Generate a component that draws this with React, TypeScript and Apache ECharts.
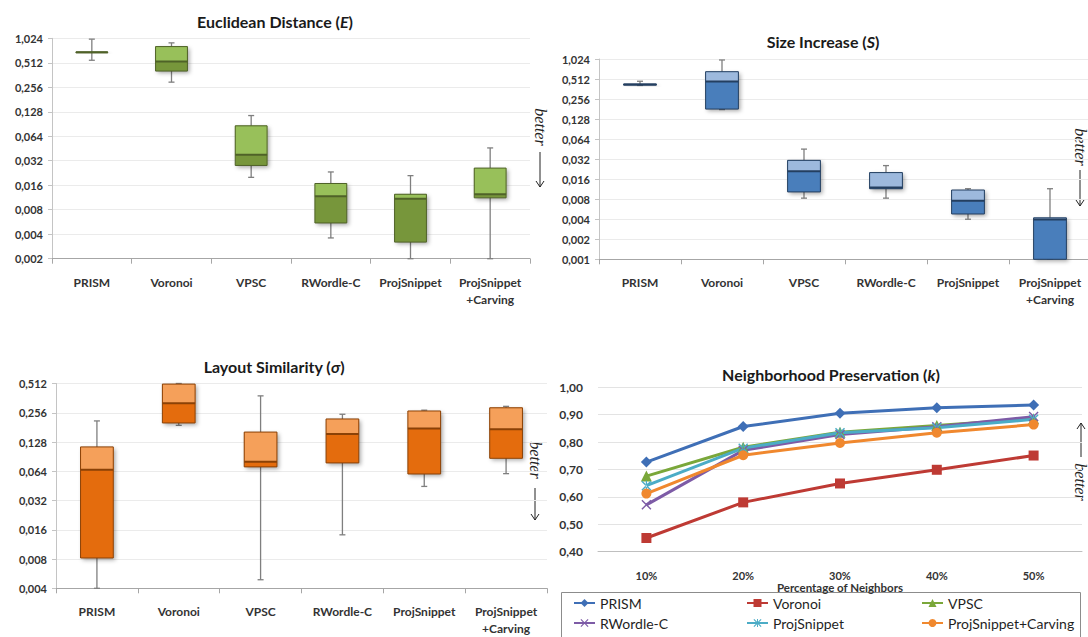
import React, { useEffect, useRef } from "react";
import * as echarts from "echarts";

const FONT = "Lato, 'Open Sans', sans-serif";
const SERIF = "'Liberation Serif', 'DejaVu Serif', serif";
const TEXT = "#333333";

// ---------- data ----------
const methodLabels = ["PRISM", "Voronoi", "VPSC", "RWordle-C", "ProjSnippet", "ProjSnippet\n+Carving"];

// box statistics: [min, q1, median, q3, max]
const euclideanStats = [
  [0.55, 0.68, 0.69, 0.695, 1.0],
  [0.296, 0.405, 0.53, 0.81, 0.9],
  [0.02, 0.028, 0.038, 0.086, 0.115],
  [0.0036, 0.0055, 0.0117, 0.0168, 0.0233],
  [0.002, 0.0032, 0.0109, 0.0124, 0.021],
  [0.002, 0.0112, 0.0124, 0.026, 0.046],
];
const sizeStats = [
  [0.41, 0.415, 0.424, 0.43, 0.474],
  [0.178, 0.181, 0.47, 0.66, 0.99],
  [0.0083, 0.0103, 0.0211, 0.0307, 0.0453],
  [0.0083, 0.0115, 0.012, 0.0201, 0.0256],
  [0.004, 0.0048, 0.0076, 0.011, 0.0115],
  [0.001, 0.001, 0.00395, 0.0042, 0.0115],
];
const similarityStats = [
  [0.004, 0.0082, 0.0663, 0.114, 0.211],
  [0.19, 0.201, 0.32, 0.505, 0.512],
  [0.0049, 0.071, 0.08, 0.162, 0.382],
  [0.0142, 0.078, 0.155, 0.221, 0.247],
  [0.0447, 0.06, 0.176, 0.267, 0.272],
  [0.0605, 0.087, 0.173, 0.288, 0.298],
];

const euclideanTicks = [0.002, 0.004, 0.008, 0.016, 0.032, 0.064, 0.128, 0.256, 0.512, 1.024];
const sizeTicks = [0.001, 0.002, 0.004, 0.008, 0.016, 0.032, 0.064, 0.128, 0.256, 0.512, 1.024];
const similarityTicks = [0.004, 0.008, 0.016, 0.032, 0.064, 0.128, 0.256, 0.512];

const percentages = ["10%", "20%", "30%", "40%", "50%"];
const npTicks = [0.4, 0.5, 0.6, 0.7, 0.8, 0.9, 1.0];
const prismNP = [0.727, 0.857, 0.905, 0.925, 0.935];
const voronoiNP = [0.45, 0.58, 0.649, 0.699, 0.751];
const vpscNP = [0.676, 0.781, 0.836, 0.861, 0.885];
const rwordleNP = [0.571, 0.77, 0.828, 0.856, 0.893];
const projNP = [0.641, 0.778, 0.834, 0.852, 0.883];
const carvingNP = [0.612, 0.752, 0.797, 0.834, 0.864];

// ---------- helpers ----------
const UNIT = 0.001;
const level = (v: number) => Math.log2(v / UNIT);
const fmtLog = (L: number) => (UNIT * Math.pow(2, Math.round(L))).toFixed(3).replace(".", ",");

const PAL_GREEN = { light: "#98C05A", dark: "#77963A", border: "#4F6228" };
const PAL_BLUE = { light: "#9DB9DD", dark: "#4A7EBB", border: "#243F60" };
const PAL_ORANGE = { light: "#F5A05A", dark: "#E46C0A", border: "#8A4106" };

const boxRender = (pal: any) => (params: any, api: any) => {
  const i = api.value(0);
  const get = (d: number) => api.coord([i, api.value(d)]);
  const pMin = get(1), pQ1 = get(2), pMed = get(3), pQ3 = get(4), pMax = get(5);
  const band = api.size([1, 0])[0];
  const w = band * 0.4;
  const cx = pMed[0];
  const x0 = cx - w / 2;
  const cap = 3;
  const wStyle = { stroke: "#7f7f7f", lineWidth: 1.3 };
  return {
    type: "group",
    children: [
      { type: "line", shape: { x1: cx, y1: pMax[1], x2: cx, y2: pMin[1] }, style: wStyle },
      { type: "line", shape: { x1: cx - cap, y1: pMax[1], x2: cx + cap, y2: pMax[1] }, style: wStyle },
      { type: "line", shape: { x1: cx - cap, y1: pMin[1], x2: cx + cap, y2: pMin[1] }, style: wStyle },
      {
        type: "rect",
        shape: { x: x0, y: pQ3[1], width: w, height: pQ1[1] - pQ3[1] },
        style: { fill: pal.dark, shadowBlur: 4, shadowOffsetX: 2, shadowOffsetY: 2, shadowColor: "rgba(0,0,0,0.35)" },
      },
      { type: "rect", shape: { x: x0, y: pQ3[1], width: w, height: pMed[1] - pQ3[1] }, style: { fill: pal.light } },
      {
        type: "rect",
        shape: { x: x0, y: pQ3[1], width: w, height: pQ1[1] - pQ3[1] },
        style: { fill: "none", stroke: pal.border, lineWidth: 1 },
      },
      { type: "line", shape: { x1: x0, y1: pMed[1], x2: x0 + w, y2: pMed[1] }, style: { stroke: pal.border, lineWidth: 2 } },
    ],
  };
};

const boxData = (stats: number[][]) => stats.map((s, i) => [i, ...s.map(level)]);

const catAxis = (gridIndex: number) => ({
  type: "category",
  gridIndex,
  data: methodLabels,
  boundaryGap: true,
  axisLine: { lineStyle: { color: "#a6a6a6" } },
  axisTick: { show: true, length: 5, lineStyle: { color: "#a6a6a6" } },
  axisLabel: { interval: 0, margin: 15, fontFamily: FONT, fontWeight: "bold", fontSize: 12, color: TEXT, lineHeight: 17 },
  splitLine: { show: false },
});

const logAxis = (gridIndex: number, ticks: number[]) => ({
  type: "value",
  gridIndex,
  min: Math.round(level(ticks[0])),
  max: Math.round(level(ticks[ticks.length - 1])),
  interval: 1,
  axisLine: { show: true, lineStyle: { color: "#c4c4c4" } },
  axisTick: { show: true, length: 4, lineStyle: { color: "#c4c4c4" } },
  splitLine: { show: true, lineStyle: { color: "#ebebeb" } },
  axisLabel: { formatter: fmtLog, fontFamily: FONT, fontWeight: "bold", fontSize: 11, color: TEXT, margin: 9 },
});

const titleText = (x: number, y: number, pre: string, it: string) => ({
  type: "text",
  x,
  y,
  style: {
    text: `{t|${pre}(}{i|${it}}{t|)}`,
    align: "center",
    verticalAlign: "middle",
    rich: {
      t: { fontFamily: FONT, fontWeight: "bold", fontSize: 16, fill: "#1a1a1a" },
      i: { fontFamily: FONT, fontWeight: "bold", fontStyle: "italic", fontSize: 16, fill: "#1a1a1a" },
    },
  },
});

const betterText = (x: number, y: number) => ({
  type: "text",
  x,
  y,
  rotation: -Math.PI / 2,
  style: {
    text: "better",
    fontFamily: SERIF,
    fontStyle: "italic",
    fontSize: 16,
    fill: "#222",
    align: "center",
    verticalAlign: "middle",
  },
});

const arrow = (x: number, y1: number, y2: number) => {
  const dir = y2 > y1 ? 1 : -1;
  return [
    { type: "line", shape: { x1: x, y1, x2: x, y2 }, style: { stroke: "#222", lineWidth: 1 } },
    {
      type: "polyline",
      shape: { points: [[x - 4, y2 - dir * 6], [x, y2], [x + 4, y2 - dir * 6]] },
      style: { stroke: "#222", lineWidth: 1, fill: "none" },
    },
  ];
};

const CROSS = "path://M0,1L1,0L5,4L9,0L10,1L6,5L10,9L9,10L5,6L1,10L0,9L4,5Z";
const STAR = "path://M0,1L1,0L5,4L9,0L10,1L6,5L10,9L9,10L5,6L1,10L0,9L4,5Z M4.4,0L4.4,10L5.6,10L5.6,0Z";

const lineSeries = [
  { name: "PRISM", data: prismNP, color: "#3F6FB6", symbol: "diamond", size: 11 },
  { name: "Voronoi", data: voronoiNP, color: "#BE3A34", symbol: "rect", size: 10 },
  { name: "VPSC", data: vpscNP, color: "#7AA73A", symbol: "triangle", size: 11 },
  { name: "RWordle-C", data: rwordleNP, color: "#7D5BA6", symbol: CROSS, size: 10 },
  { name: "ProjSnippet", data: projNP, color: "#4BACC6", symbol: STAR, size: 10 },
  { name: "ProjSnippet+Carving", data: carvingNP, color: "#F0882E", symbol: "circle", size: 10 },
];

const legendPos = [
  [573, 596],
  [746, 596],
  [921, 596],
  [573, 616],
  [746, 616],
  [921, 616],
];

function buildOption(): any {
  return {
    animation: false,
    backgroundColor: "#ffffff",
    grid: [
      { left: 52, top: 38.3, width: 478, height: 220.4, outerBoundsMode: "none" },
      { left: 599, top: 59, width: 492, height: 200.3, outerBoundsMode: "none" },
      { left: 56, top: 383.5, width: 491, height: 204.8, outerBoundsMode: "none" },
      { left: 598, top: 387.3, width: 484, height: 164.4, outerBoundsMode: "none" },
    ],
    xAxis: [
      catAxis(0),
      catAxis(1),
      catAxis(2),
      {
        type: "category",
        gridIndex: 3,
        data: percentages,
        boundaryGap: true,
        axisLine: { lineStyle: { color: "#bfbfbf" } },
        axisTick: { show: false },
        axisLabel: { margin: 18, fontFamily: FONT, fontWeight: "bold", fontSize: 11, color: TEXT },
        name: "Percentage of Neighbors",
        nameLocation: "middle",
        nameGap: 30,
        nameTextStyle: { fontFamily: FONT, fontWeight: "bold", fontSize: 11.5, color: TEXT },
      },
    ],
    yAxis: [
      logAxis(0, euclideanTicks),
      logAxis(1, sizeTicks),
      logAxis(2, similarityTicks),
      {
        type: "value",
        gridIndex: 3,
        min: npTicks[0],
        max: npTicks[npTicks.length - 1],
        interval: 0.1,
        axisLine: { show: false },
        axisTick: { show: false },
        splitLine: { lineStyle: { color: "#e3e3e3" } },
        axisLabel: {
          formatter: (v: number) => v.toFixed(2).replace(".", ","),
          fontFamily: FONT,
          fontWeight: "bold",
          fontSize: 12,
          color: TEXT,
          margin: 15,
        },
      },
    ],
    legend: lineSeries.map((s, k) => ({
      data: [s.name],
      left: legendPos[k][0],
      top: legendPos[k][1],
      padding: 0,
      itemWidth: 21,
      itemHeight: 10,
      itemGap: 0,
      textStyle: { fontFamily: FONT, fontSize: 14, color: "#1f1f1f" },
    })),
    series: [
      {
        type: "custom",
        name: "Euclidean Distance",
        xAxisIndex: 0,
        yAxisIndex: 0,
        renderItem: boxRender(PAL_GREEN),
        encode: { x: 0, y: [1, 2, 3, 4, 5] },
        data: boxData(euclideanStats),
      },
      {
        type: "custom",
        name: "Size Increase",
        xAxisIndex: 1,
        yAxisIndex: 1,
        renderItem: boxRender(PAL_BLUE),
        encode: { x: 0, y: [1, 2, 3, 4, 5] },
        data: boxData(sizeStats),
      },
      {
        type: "custom",
        name: "Layout Similarity",
        xAxisIndex: 2,
        yAxisIndex: 2,
        renderItem: boxRender(PAL_ORANGE),
        encode: { x: 0, y: [1, 2, 3, 4, 5] },
        data: boxData(similarityStats),
      },
      ...lineSeries.map((s) => ({
        type: "line",
        name: s.name,
        xAxisIndex: 3,
        yAxisIndex: 3,
        data: s.data,
        symbol: s.symbol,
        symbolSize: s.size,
        showAllSymbol: true,
        lineStyle: { width: 3, color: s.color },
        itemStyle: { color: s.color },
      })),
    ],
    graphic: [
      titleText(275, 21, "Euclidean Distance ", "E"),
      titleText(823, 41, "Size Increase ", "S"),
      titleText(274, 366, "Layout Similarity ", "σ"),
      titleText(831, 374, "Neighborhood Preservation ", "k"),
      betterText(540, 127),
      ...arrow(540, 152, 187),
      betterText(1080, 147),
      ...arrow(1080, 170, 206),
      betterText(535, 460),
      ...arrow(535, 488, 520),
      ...arrow(1081, 457, 423),
      betterText(1080, 482),
      {
        type: "rect",
        shape: { x: 561.5, y: 592.5, width: 519, height: 50 },
        style: { fill: "none", stroke: "#8c8c8c", lineWidth: 1 },
        z: -1,
      },
    ],
  };
}

export default function App() {
  const ref = useRef<HTMLDivElement>(null);
  useEffect(() => {
    const chart = echarts.init(ref.current as HTMLDivElement, null, { renderer: "svg" });
    chart.setOption(buildOption());
    return () => chart.dispose();
  }, []);
  return (
    <div
      ref={ref}
      style={{ position: "fixed", left: 0, top: 0, width: 1088, height: 637, background: "#fff", overflow: "hidden" }}
    />
  );
}
